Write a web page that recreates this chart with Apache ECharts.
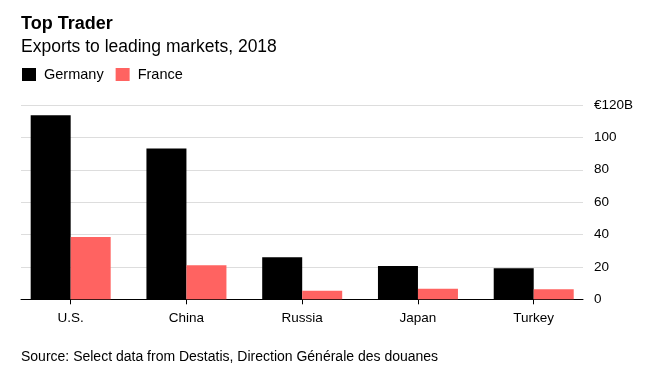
<!DOCTYPE html>
<html><head><meta charset="utf-8">
<script src="https://cdn.jsdelivr.net/npm/echarts@6/dist/echarts.min.js"></script>
<style>html,body{margin:0;padding:0;background:#fff}#c{width:648px;height:380px}</style>
</head><body><div id="c"></div>
<script>
const categories = ['U.S.', 'China', 'Russia', 'Japan', 'Turkey'];
const germany = [113.6, 93.2, 25.9, 20.6, 19.1];
const france = [38.5, 21.0, 5.3, 6.5, 6.2];
const yTicks = [0, 20, 40, 60, 80, 100, 120];
const FONT = '"Liberation Sans", Arial, Helvetica, sans-serif';

const chart = echarts.init(document.getElementById('c'), null, {renderer: 'canvas'});
chart.setOption({
  animation: false,
  backgroundColor: '#fff',
  textStyle: {fontFamily: FONT},
  title: [
    {text: 'Top Trader', left: 21, top: 15, padding: 0,
     textStyle: {fontFamily: FONT, fontSize: 18, fontWeight: 'bold', color: '#000'}},
    {text: 'Exports to leading markets, 2018', left: 21, top: 38, padding: 0,
     textStyle: {fontFamily: FONT, fontSize: 17.5, fontWeight: 'normal', color: '#000'}},
    {text: 'Source: Select data from Destatis, Direction Générale des douanes', left: 21, top: 350, padding: 0,
     textStyle: {fontFamily: FONT, fontSize: 14, fontWeight: 'normal', color: '#000'}}
  ],
  legend: {
    left: 22, top: 67, padding: 0, itemWidth: 14, itemHeight: 13, itemGap: 12,
    icon: 'rect',
    textStyle: {fontFamily: FONT, fontSize: 14.5, color: '#000', padding: [0, 0, 0, 3]},
    data: ['Germany', 'France']
  },
  grid: [
    {left: 12.8, right: 56.4, top: 105, bottom: 80.7},
    {left: 21, right: 65, top: 105, bottom: 80.7}
  ],
  xAxis: [
    {gridIndex: 0, type: 'category', data: categories,
     axisLine: {show: false},
     axisTick: {show: true, alignWithLabel: true, length: 5, lineStyle: {color: '#000'}},
     axisLabel: {fontFamily: FONT, fontSize: 13.5, color: '#000', margin: 12}},
    {gridIndex: 1, type: 'category', data: categories,
     axisLine: {show: true, lineStyle: {color: '#000', width: 1}},
     axisTick: {show: false}, axisLabel: {show: false}}
  ],
  yAxis: [
    {gridIndex: 0, type: 'value', min: 0, max: 120, interval: 20, show: false},
    {gridIndex: 1, type: 'value', min: 0, max: 120, interval: 20, position: 'right',
     axisLine: {show: false}, axisTick: {show: false},
     splitLine: {show: true, lineStyle: {color: '#ddd', width: 1}},
     axisLabel: {fontFamily: FONT, fontSize: 13.5, color: '#000', margin: 11,
       formatter: v => (v === yTicks[yTicks.length - 1] ? '€' + v + 'B' : String(v))}}
  ],
  series: [
    {name: 'Germany', type: 'bar', xAxisIndex: 0, yAxisIndex: 0, data: germany,
     barWidth: 40, barGap: '0%', itemStyle: {color: '#000'}},
    {name: 'France', type: 'bar', xAxisIndex: 0, yAxisIndex: 0, data: france,
     barWidth: 40, barGap: '0%', itemStyle: {color: '#ff6361'}}
  ]
});
</script></body></html>
